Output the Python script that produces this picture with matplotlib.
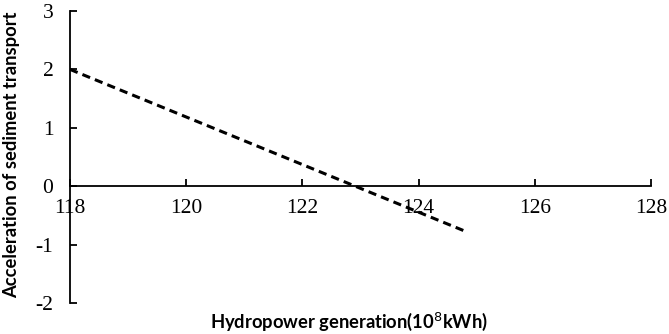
import numpy as np
import matplotlib.pyplot as plt

plt.rcParams['axes.unicode_minus'] = False

# fitted line
hydro = [118.0, 124.8]
accel = [2.0, -0.77]

xticks = [118, 120, 122, 124, 126, 128]
yticks = [-2, -1, 0, 1, 2, 3]

fig = plt.figure(figsize=(6.69, 3.34), dpi=100)
ax = fig.add_axes([0.1046, 0.0928, 0.8684, 0.8743])

ax.plot(hydro, accel, color='black', lw=2.2, linestyle=(0, (2.7, 1.7)))

ax.set_xlim(118, 128)
ax.set_ylim(-2, 3)
ax.set_xticks(xticks)
ax.set_yticks(yticks)

ax.spines['top'].set_visible(False)
ax.spines['right'].set_visible(False)
ax.spines['bottom'].set_position(('data', 0))
for s in ('left', 'bottom'):
    ax.spines[s].set_linewidth(1.3)

ax.tick_params(axis='both', direction='in', length=5, width=1.3,
               labelsize=15.5, labelfontfamily='Liberation Serif')
ax.tick_params(axis='x', pad=9)
ax.tick_params(axis='y', pad=12)

fig.text(0.522, 0.036, 'Hydropower generation(10$^{8}$kWh)', ha='center', va='center',
         fontsize=13.2, family='Lato', fontweight='bold')
fig.text(0.018, 0.536, 'Acceleration of sediment transport', ha='center', va='center',
         rotation=90, fontsize=13.2, family='Lato', fontweight='bold')

fig.savefig('out.png', dpi=100)
